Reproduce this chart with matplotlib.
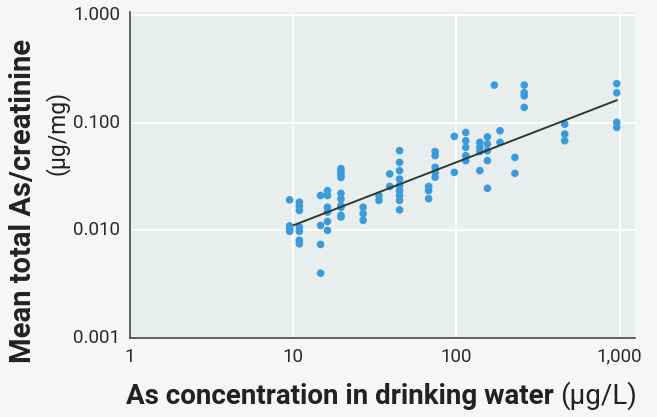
import matplotlib
matplotlib.use("Agg")
import matplotlib.pyplot as plt
import numpy as np

# ---- data ----
as_water = [9.5, 9.5, 9.5, 9.5,
            10.9, 10.9, 10.9, 10.9, 10.9, 10.9, 10.9,
            14.7, 14.7, 14.7, 14.7,
            16.2, 16.2, 16.2, 16.2, 16.2, 16.2,
            19.6, 19.6, 19.6, 19.6, 19.6, 19.6, 19.6, 19.6, 19.6, 19.6,
            26.8, 26.8, 26.8,
            33.5, 33.5,
            39, 39,
            44.8, 44.8, 44.8, 44.8, 44.8, 44.8, 44.8, 44.8, 44.8,
            67.5, 67.5, 67.5,
            74, 74, 74, 74, 74,
            97, 97,
            114, 114, 114, 114, 114,
            139, 139, 139, 139,
            154.6, 154.6, 154.6, 154.6, 154.6,
            170.6,
            184.7, 184.7,
            228, 228,
            260, 260, 260, 260,
            460, 460, 460,
            959, 959, 959, 959]
as_creat = [0.0192, 0.0110, 0.0104, 0.0098,
            0.0183, 0.0168, 0.0153, 0.0107, 0.0098, 0.0081, 0.0075,
            0.0211, 0.0111, 0.0074, 0.0040,
            0.0234, 0.0211, 0.0164, 0.0148, 0.0121, 0.0100,
            0.0375, 0.0350, 0.0330, 0.0310, 0.0221, 0.0196, 0.0170, 0.0164, 0.0138, 0.0133,
            0.0164, 0.0143, 0.0124,
            0.0211, 0.0190,
            0.0335, 0.0256,
            0.0550, 0.0429, 0.0359, 0.0300, 0.0261, 0.0234, 0.0211, 0.0190, 0.0155,
            0.0256, 0.0234, 0.0197,
            0.0540, 0.0495, 0.0386, 0.0346, 0.0312,
            0.0747, 0.0346,
            0.0813, 0.0681, 0.0590, 0.0495, 0.0445,
            0.0658, 0.0590, 0.0540, 0.0359,
            0.0740, 0.0635, 0.0550, 0.0445, 0.0246,
            0.224,
            0.0843, 0.0658,
            0.0477, 0.0339,
            0.224, 0.190, 0.178, 0.139,
            0.097, 0.0786, 0.0681,
            0.231, 0.190, 0.101, 0.0906]
fit_x = [10.1, 959]
fit_y = [0.0112, 0.162]

x_ticks = [1, 10, 100, 1000]
x_ticklabels = ["1", "10", "100", "1,000"]
y_ticks = [0.001, 0.01, 0.1, 1.0]
y_ticklabels = ["0.001", "0.010", "0.100", "1.000"]

FONT = ["Roboto", "DejaVu Sans"]
plt.rcParams["font.family"] = FONT

W, H = 657, 417
fig = plt.figure(figsize=(W / 100, H / 100), dpi=100, facecolor="#f6f6f4")
ax = fig.add_axes([130 / W, 1 - 338 / H, (635 - 130) / W, (338 - 12) / H])
ax.set_facecolor("#e8eded")
ax.set_xscale("log")
ax.set_yscale("log")
ax.set_xlim(1, 1240)
ax.set_ylim(0.001, 1.07)

ax.grid(True, which="major", color="white", lw=1.3)
ax.set_axisbelow(True)
ax.minorticks_off()
ax.set_xticks(x_ticks)
ax.set_xticklabels(x_ticklabels)
ax.set_yticks(y_ticks)
ax.set_yticklabels(y_ticklabels)
ax.tick_params(length=0, labelsize=13.5, colors="#2a2a2a", pad=7)
for lab in ax.get_yticklabels():
    lab.set_verticalalignment("center")
for s in ["top", "right"]:
    ax.spines[s].set_visible(False)
for s in ["left", "bottom"]:
    ax.spines[s].set_color("#3a4a40")
    ax.spines[s].set_linewidth(1.2)

ax.scatter(as_water, as_creat, s=30, color="#3b9ada", edgecolors="none", zorder=3)
ax.plot(fit_x, fit_y, color="#2e3a30", lw=1.4, zorder=4)

# y label
fig.text(23 / W, 1 - 201 / H, "Mean total As/creatinine", rotation=90,
         ha="center", va="center", fontsize=21, fontweight="bold", color="#222222")
fig.text(57 / W, 1 - 133 / H, "(\u00b5g/mg)", rotation=90,
         ha="center", va="center", fontsize=16.5, color="#222222")

# x label
t1 = fig.text(126 / W, 1 - 396 / H, "As concentration in drinking water",
              ha="left", va="center", fontsize=20, fontweight="bold", color="#222222")
fig.canvas.draw()
bb = t1.get_window_extent(fig.canvas.get_renderer())
fig.text((bb.x1 + 6) / W, 1 - 396 / H, "(\u00b5g/L)",
         ha="left", va="center", fontsize=20, color="#222222")

fig.savefig("out.png", dpi=100, facecolor=fig.get_facecolor())
